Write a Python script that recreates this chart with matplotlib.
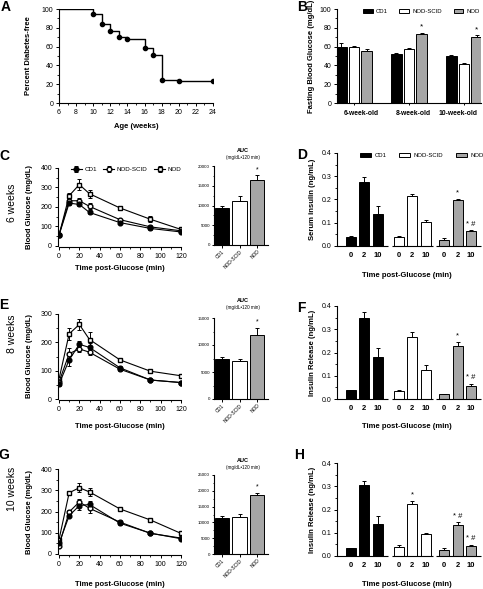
import numpy as np
import matplotlib
matplotlib.use("Agg")
import matplotlib.pyplot as plt
from matplotlib.ticker import MultipleLocator

plt.rcParams['font.family'] = ['Liberation Sans', 'DejaVu Sans']
plt.rcParams['axes.linewidth'] = 0.8
plt.rcParams['xtick.major.width'] = 0.7
plt.rcParams['ytick.major.width'] = 0.7
plt.rcParams['xtick.minor.width'] = 0.6
plt.rcParams['ytick.minor.width'] = 0.6
plt.rcParams['xtick.major.size'] = 2.5
plt.rcParams['ytick.major.size'] = 2.5
plt.rcParams['xtick.minor.size'] = 1.5
plt.rcParams['ytick.minor.size'] = 1.5

W, H = 483, 589

# --- A: diabetes-free survival ---
age_weeks = [6, 10, 11, 12, 13, 14, 16, 17, 18, 20, 24]
pct_free = [100, 95, 84, 77, 70, 68, 58, 51, 24, 23, 23]

# --- B: fasting glucose ---
ages_b = ['6-week-old', '8-week-old', '10-week-old']
fbg_cd1 = [60, 52, 50]
fbg_cd1_err = [4, 1, 1]
fbg_scid = [60, 57, 42]
fbg_scid_err = [1, 1.5, 1]
fbg_nod = [55, 73, 70]
fbg_nod_err = [2, 2, 2]
fbg_star = ['', '*', '*']

# --- GTT time courses ---
t_min = [0, 10, 20, 30, 60, 90, 120]

c_cd1 = [55, 220, 213, 172, 120, 90, 72]
c_cd1_err = [5, 10, 10, 10, 6, 6, 5]
c_scid = [58, 232, 232, 203, 135, 98, 78]
c_scid_err = [5, 12, 15, 15, 6, 8, 5]
c_nod = [55, 258, 315, 268, 195, 137, 85]
c_nod_err = [5, 15, 30, 20, 8, 15, 6]

e_cd1 = [52, 138, 193, 182, 110, 67, 58]
e_cd1_err = [5, 20, 12, 15, 6, 4, 4]
e_scid = [60, 160, 177, 165, 105, 67, 58]
e_scid_err = [5, 20, 10, 10, 6, 4, 4]
e_nod = [70, 230, 263, 210, 138, 98, 82]
e_nod_err = [5, 20, 20, 25, 8, 5, 5]

g_cd1 = [50, 180, 228, 233, 145, 98, 72]
g_cd1_err = [5, 8, 20, 15, 8, 6, 5]
g_scid = [40, 198, 245, 215, 150, 97, 75]
g_scid_err = [5, 10, 15, 20, 8, 6, 5]
g_nod = [68, 288, 312, 292, 212, 160, 97]
g_nod_err = [5, 10, 20, 20, 6, 6, 8]

# --- AUC ---
auc_groups = ['CD1', 'NOD-SCID', 'NOD']
auc_c = [9300, 11200, 16500]
auc_c_err = [500, 1200, 1100]
auc_e = [7400, 7000, 11900]
auc_e_err = [400, 400, 1200]
auc_g = [11500, 11600, 18800]
auc_g_err = [500, 1200, 600]

# --- Insulin (0, 2, 10 min) per group: CD1, NOD-SCID, NOD ---
ins_ticks = ['0', '2', '10']
d_ins = [0.037, 0.275, 0.137, 0.037, 0.215, 0.103, 0.026, 0.198, 0.065]
d_err = [0.004, 0.02, 0.037, 0.008, 0.01, 0.01, 0.007, 0.006, 0.003]
d_mark = ['', '', '', '', '', '', '', '*', '* #']
f_ins = [0.037, 0.35, 0.18, 0.035, 0.268, 0.125, 0.02, 0.228, 0.058]
f_err = [0.002, 0.025, 0.04, 0.004, 0.022, 0.02, 0.002, 0.018, 0.008]
f_mark = ['', '', '', '', '', '', '', '*', '* #']
h_ins = [0.033, 0.307, 0.137, 0.038, 0.223, 0.093, 0.025, 0.133, 0.045]
h_err = [0.002, 0.015, 0.037, 0.008, 0.015, 0.005, 0.008, 0.012, 0.004]
h_mark = ['', '', '', '', '*', '', '', '* #', '* #']

BLACK, WHITE, GRAY = 'black', 'white', '#a6a6a6'

fig = plt.figure(figsize=(W / 100, H / 100), dpi=100)


def add_ax(l, t, r, b):
    ax = fig.add_axes([l / W, 1 - b / H, (r - l) / W, (b - t) / H])
    ax.spines['top'].set_visible(False)
    ax.spines['right'].set_visible(False)
    ax.tick_params(labelsize=5, pad=1.5)
    return ax


def ftext(x, y, s, **kw):
    fig.text(x / W, 1 - y / H, s, ha='center', va='center', **kw)


def ylab(ax, s, xpx, l, r, fs=5.5):
    ax.set_ylabel(s, fontsize=fs, fontweight='bold')
    ax.yaxis.set_label_coords((xpx - l) / (r - l), 0.5)


# ---------------- A ----------------
axA = add_ax(59, 9, 213, 103)
axA.step(age_weeks, pct_free, where='post', color='black', lw=1)
axA.plot(age_weeks[1:], pct_free[1:], 'o', color='black', ms=3)
axA.set_xlim(6, 24)
axA.set_ylim(0, 100)
axA.xaxis.set_major_locator(MultipleLocator(2))
axA.xaxis.set_minor_locator(MultipleLocator(1))
axA.yaxis.set_major_locator(MultipleLocator(20))
axA.yaxis.set_minor_locator(MultipleLocator(10))
ylab(axA, 'Percent Diabetes-free', 32, 59, 213)
ftext(136, 127, 'Age (weeks)', fontsize=5.5, fontweight='bold')
ftext(6, 7, 'A', fontsize=10, fontweight='bold')

# ---------------- B ----------------
axB = add_ax(337, 9, 481, 103)
xb = np.arange(len(ages_b))
off, bw = 0.23, 0.19
ekw = dict(ecolor='black', elinewidth=0.7, capsize=1.5, capthick=0.7)
for vals, errs, col, dx, name in [(fbg_cd1, fbg_cd1_err, BLACK, -off, 'CD1'),
                                  (fbg_scid, fbg_scid_err, WHITE, 0, 'NOD-SCID'),
                                  (fbg_nod, fbg_nod_err, GRAY, off, 'NOD')]:
    axB.bar(xb + dx, vals, bw, color=col, edgecolor='black', lw=0.7, label=name,
            yerr=[np.zeros(3), errs], error_kw=ekw)
for i, s in enumerate(fbg_star):
    if s:
        axB.text(i + off, fbg_nod[i] + fbg_nod_err[i] + 2, s, ha='center', va='bottom', fontsize=6)
axB.set_xlim(-0.31, 2.31)
axB.set_ylim(0, 100)
axB.set_xticks(xb)
axB.set_xticklabels([])
axB.tick_params(axis='x', which='major', length=1.5)
# group labels sit slightly off the tick marks, as in the source figure
axB.set_xticks(xb + np.array([0.14, 0.07, -0.11]), minor=True)
axB.set_xticklabels(ages_b, minor=True, fontsize=4.9, fontweight='bold')
axB.tick_params(axis='x', which='minor', length=0, pad=5)
axB.yaxis.set_major_locator(MultipleLocator(20))
axB.yaxis.set_minor_locator(MultipleLocator(10))
ylab(axB, 'Fasting Blood Glucose (mg/dL)', 315, 337, 481)
axB.legend(loc='upper center', bbox_to_anchor=(0.585, 1.06), ncol=3, frameon=False,
           fontsize=4.3, handlelength=1.6, handleheight=0.7, columnspacing=2.0, handletextpad=0.5)
ftext(302, 7, 'B', fontsize=10, fontweight='bold')


# ---------------- GTT panels ----------------
def gtt(box, cd1, cd1e, scid, scide, nod, node, ymax, legend):
    ax = add_ax(*box)
    mk = dict(ms=3.4, lw=0.8, elinewidth=0.7, capsize=1.5, capthick=0.7)
    ax.errorbar(t_min, nod, yerr=node, fmt='-s', color='black', mfc='white', label='NOD', **mk)
    ax.errorbar(t_min, scid, yerr=scide, fmt='-o', color='black', mfc='white', label='NOD-SCID', **mk)
    ax.errorbar(t_min, cd1, yerr=cd1e, fmt='-o', color='black', mfc='black', label='CD1', **mk)
    ax.set_xlim(0, 120)
    ax.set_ylim(0, ymax)
    ax.xaxis.set_major_locator(MultipleLocator(20))
    ax.xaxis.set_minor_locator(MultipleLocator(10))
    ax.yaxis.set_major_locator(MultipleLocator(100))
    ax.yaxis.set_minor_locator(MultipleLocator(50))
    for sp in ['left', 'bottom']:
        ax.spines[sp].set_position(('outward', 1))
    ylab(ax, 'Blood Glucose (mg/dL)', 33, box[0], box[2])
    if legend:
        h, lb = ax.get_legend_handles_labels()
        ax.legend(h[::-1], lb[::-1], loc='upper center', bbox_to_anchor=(0.55, 1.09), ncol=3,
                  frameon=False, fontsize=4.5, handlelength=1.8, columnspacing=1.0, handletextpad=0.4)
    return ax


def auc(box, vals, errs, ymax, step, title_y):
    ax = add_ax(*box)
    xa = np.arange(3)
    ax.bar(xa, vals, 0.85, color=[BLACK, WHITE, GRAY], edgecolor='black', lw=0.7,
           yerr=[np.zeros(3), errs], error_kw=ekw)
    ax.text(2, vals[2] + errs[2] + ymax * 0.03, '*', ha='center', va='bottom', fontsize=5)
    ax.set_xlim(-0.46, 2.63)
    ax.set_ylim(0, ymax)
    ax.yaxis.set_major_locator(MultipleLocator(step))
    ax.yaxis.set_minor_locator(MultipleLocator(step / 2))
    ax.set_xticks(xa)
    ax.set_xticklabels(auc_groups, rotation=45, ha='right', rotation_mode='anchor', fontsize=3.5)
    ax.tick_params(axis='y', labelsize=3.2, length=1.8, pad=1)
    ax.tick_params(axis='y', which='minor', length=1)
    ax.tick_params(axis='x', length=1.8, pad=1)
    ftext(243, title_y, 'AUC', fontsize=4, fontweight='bold')
    ftext(243, title_y + 7, '(mg/dL\u2022120 min)', fontsize=3.3)
    return ax


def insulin(box, vals, errs, marks, ylabel_txt):
    ax = add_ax(*box)
    xi = np.array([0, 1, 2, 3.6, 4.6, 5.6, 7, 8, 9])
    cols = [BLACK] * 3 + [WHITE] * 3 + [GRAY] * 3
    ax.bar(xi, vals, 0.75, color=cols, edgecolor='black', lw=0.7,
           yerr=[np.zeros(9), errs], error_kw=ekw)
    for x, v, e, m in zip(xi, vals, errs, marks):
        if m:
            ax.text(x, v + e + 0.01, m, ha='center', va='bottom', fontsize=5.5)
    ax.set_xlim(-1.05, 9.75)
    ax.set_ylim(0, 0.4)
    ax.spines['bottom'].set_visible(False)
    for a, b in [(-1.05, 2.8), (3.05, 6.15), (6.4, 9.75)]:
        ax.plot([a, b], [0, 0], color='black', lw=0.8, clip_on=False, solid_capstyle='butt')
    ax.set_xticks(xi)
    ax.set_xticklabels(ins_ticks * 3, fontsize=5.5, fontweight='bold')
    ax.tick_params(axis='x', length=0, pad=4)
    ax.yaxis.set_major_locator(MultipleLocator(0.1))
    ax.yaxis.set_minor_locator(MultipleLocator(0.05))
    ax.yaxis.set_major_formatter(matplotlib.ticker.FormatStrFormatter('%.1f'))
    ylab(ax, ylabel_txt, 316, box[0], box[2])
    return ax


# C / D
gtt((59, 168, 181, 246), c_cd1, c_cd1_err, c_scid, c_scid_err, c_nod, c_nod_err, 400, True)
ftext(120, 268, 'Time post-Glucose (min)', fontsize=5.5, fontweight='bold')
auc((214, 166, 268, 245), auc_c, auc_c_err, 20000, 5000, 151)
axD = insulin((337, 153, 481, 246), d_ins, d_err, d_mark, 'Serum insulin (ng/mL)')
ftext(407, 275, 'Time post-Glucose (min)', fontsize=5.5, fontweight='bold')
leg_h = [plt.Rectangle((0, 0), 1, 1, fc=c, ec='black', lw=0.7) for c in [BLACK, WHITE, GRAY]]
axD.legend(leg_h, auc_groups, loc='upper center', bbox_to_anchor=(0.59, 1.06), ncol=3, frameon=False,
           fontsize=4.3, handlelength=1.8, handleheight=0.8, columnspacing=2.1, handletextpad=0.6)
ftext(4, 156, 'C', fontsize=10, fontweight='bold')
ftext(302, 155, 'D', fontsize=10, fontweight='bold')
ftext(12, 203, '6 weeks', fontsize=7.5, rotation=90)

# E / F
gtt((59, 314, 181, 399), e_cd1, e_cd1_err, e_scid, e_scid_err, e_nod, e_nod_err, 300, False)
ftext(120, 427, 'Time post-Glucose (min)', fontsize=5.5, fontweight='bold')
auc((214, 318, 268, 399), auc_e, auc_e_err, 15000, 5000, 300)
insulin((337, 306, 481, 399), f_ins, f_err, f_mark, 'Insulin Release (ng/mL)')
ftext(407, 427, 'Time post-Glucose (min)', fontsize=5.5, fontweight='bold')
ftext(4, 305, 'E', fontsize=10, fontweight='bold')
ftext(301, 308, 'F', fontsize=10, fontweight='bold')
ftext(12, 334, '8 weeks', fontsize=7.5, rotation=90)

# G / H
gtt((59, 469, 181, 554), g_cd1, g_cd1_err, g_scid, g_scid_err, g_nod, g_nod_err, 400, False)
ftext(120, 584, 'Time post-Glucose (min)', fontsize=5.5, fontweight='bold')
auc((214, 475, 268, 554), auc_g, auc_g_err, 25000, 5000, 460)
insulin((337, 463, 481, 556), h_ins, h_err, h_mark, 'Insulin Release (ng/mL)')
ftext(407, 584, 'Time post-Glucose (min)', fontsize=5.5, fontweight='bold')
ftext(4, 455, 'G', fontsize=10, fontweight='bold')
ftext(299, 455, 'H', fontsize=10, fontweight='bold')
ftext(12, 489, '10 weeks', fontsize=7.5, rotation=90)

fig.savefig('out.png', dpi=100)
